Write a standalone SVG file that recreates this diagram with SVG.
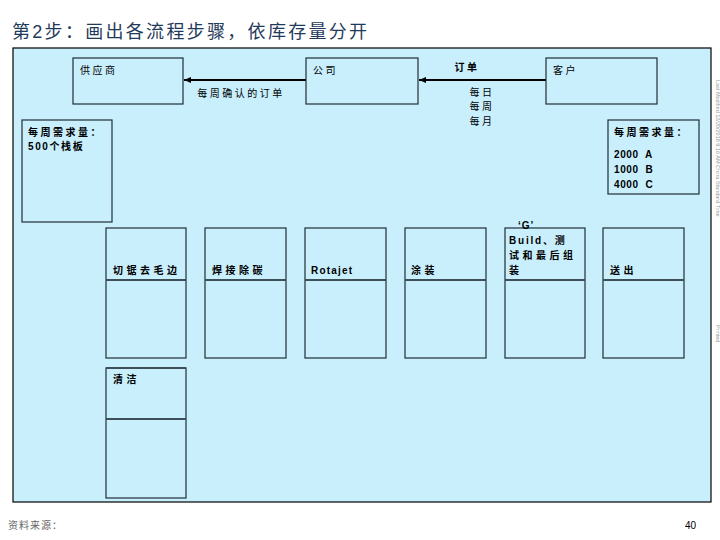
<svg xmlns="http://www.w3.org/2000/svg" width="720" height="540" viewBox="0 0 720 540">
<defs>
<marker id="ah" markerWidth="8" markerHeight="8" refX="7" refY="4" orient="auto" markerUnits="userSpaceOnUse">
<path d="M0,1 L7,4 L0,7 Z" fill="#000"/>
</marker>
<style>
.t{font-family:"Liberation Sans","Noto Sans CJK SC",sans-serif;font-size:10px;fill:#000;letter-spacing:2.5px}
.w{letter-spacing:3.5px}
.b{font-weight:bold}
.box{fill:#c9effd;stroke:#1e2e36;stroke-width:1.2}
.div{stroke:#3d4f58;stroke-width:1.8}
.con{stroke:#000;stroke-width:2;fill:none}
</style>
</defs>
<rect width="720" height="540" fill="#fff"/>
<text x="12" y="38" font-family="'Liberation Sans','Noto Sans CJK SC',sans-serif" font-size="18" letter-spacing="2.3" fill="#1f3a5a">第2步：画出各流程步骤，依库存量分开</text>
<rect x="13" y="48" width="698" height="454" fill="#c9effd" stroke="#000" stroke-width="1.2"/>
<text transform="translate(716,80) rotate(90)" font-family="'Liberation Sans',sans-serif" font-size="5.5" fill="#999">Last Modified 12/20/2018 9:16 AM China Standard Time</text>
<text transform="translate(716,325) rotate(90)" font-family="'Liberation Sans',sans-serif" font-size="5.5" fill="#999">Printed</text>

<g id="connectors">
<line class="con" x1="306" y1="80" x2="184" y2="80" marker-end="url(#ah)"/>
<line class="con" x1="546" y1="80" x2="419" y2="80" marker-end="url(#ah)"/>
<text class="t" x="241" y="97" text-anchor="middle">每周确认的订单</text>
<text class="t b" x="467" y="71" text-anchor="middle">订单</text>
<text class="t" x="482" y="96" text-anchor="middle">每日</text>
<text class="t" x="482" y="110" text-anchor="middle">每周</text>
<text class="t" x="482" y="125" text-anchor="middle">每月</text>
</g>

<g id="supplier"><rect class="box" x="73" y="58" width="110" height="46"/><text class="t" x="80" y="74">供应商</text></g>
<g id="company"><rect class="box" x="306" y="58" width="112" height="46"/><text class="t" x="313" y="74">公司</text></g>
<g id="customer"><rect class="box" x="546" y="58" width="111" height="46"/><text class="t" x="553" y="74">客户</text></g>

<g id="demand-left"><rect class="box" x="22" y="120" width="90" height="102"/>
<text class="t b" x="28" y="136">每周需求量：</text><text class="t b" x="28" y="150" style="letter-spacing:1.6px">500个栈板</text></g>
<g id="demand-right"><rect class="box" x="608" y="120" width="91" height="74"/>
<text class="t b" x="614" y="136">每周需求量：</text>
<text class="t b" x="614" y="158" style="letter-spacing:0.6px" xml:space="preserve">2000  A</text>
<text class="t b" x="614" y="173" style="letter-spacing:0.6px" xml:space="preserve">1000  B</text>
<text class="t b" x="614" y="188" style="letter-spacing:0.6px" xml:space="preserve">4000  C</text></g>

<g id="p1"><rect class="box" x="106" y="228" width="80" height="130"/><line class="div" x1="106" y1="280" x2="186" y2="280"/><text class="t b w" x="113" y="274">切锯去毛边</text></g>
<g id="p2"><rect class="box" x="205" y="228" width="81" height="130"/><line class="div" x1="205" y1="280" x2="286" y2="280"/><text class="t b w" x="212" y="274">焊接除碳</text></g>
<g id="p3"><rect class="box" x="305" y="228" width="81" height="130"/><line class="div" x1="305" y1="280" x2="386" y2="280"/><text class="t b" x="311" y="274" style="letter-spacing:1.2px">Rotajet</text></g>
<g id="p4"><rect class="box" x="405" y="228" width="81" height="130"/><line class="div" x1="405" y1="280" x2="486" y2="280"/><text class="t b w" x="411" y="274">涂装</text></g>
<g id="p5"><rect class="box" x="505" y="228" width="80" height="130"/><line class="div" x1="505" y1="280" x2="585" y2="280"/>
<text class="t b" x="518" y="229" style="letter-spacing:1px">‘G’</text>
<text class="t b" x="509" y="244" style="letter-spacing:1.8px">Build、测</text>
<text class="t b w" x="509" y="259">试和最后组</text>
<text class="t b" x="509" y="274">装</text></g>
<g id="p6"><rect class="box" x="603" y="228" width="81" height="130"/><line class="div" x1="603" y1="280" x2="684" y2="280"/><text class="t b w" x="610" y="274">送出</text></g>
<g id="p7"><rect class="box" x="106" y="368" width="80" height="130"/><line class="div" x1="106" y1="368" x2="186" y2="368"/><line class="div" x1="106" y1="419" x2="186" y2="419"/><text class="t b w" x="113" y="383">清洁</text></g>

<text x="8" y="529" font-family="'Liberation Sans','Noto Sans CJK SC',sans-serif" font-size="10" letter-spacing="1" fill="#666">资料来源：</text>
<text x="685" y="529" font-family="'Liberation Sans',sans-serif" font-size="10" fill="#000">40</text>
</svg>
